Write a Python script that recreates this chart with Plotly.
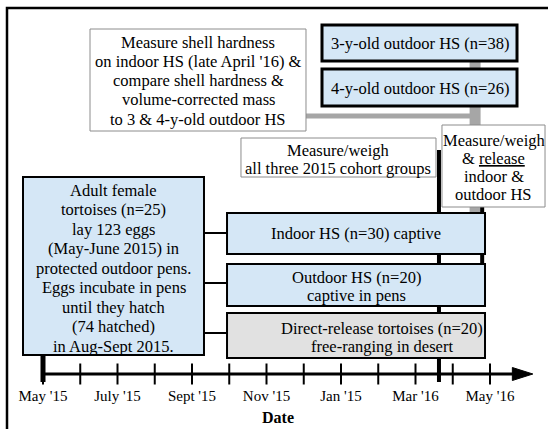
import plotly.graph_objects as go

# ---------------- data ----------------
# timeline in months since May 2015 (0 = May '15 ... 12 = May '16)
tick_months = list(range(13))
label_months = [0, 2, 4, 6, 8, 10, 12]
tick_labels = ["May '15", "July '15", "Sept '15", "Nov '15", "Jan '15", "Mar '16", "May '16"]
axis_end_month = 13.15
measure_month = 10.63        # measure/weigh all three cohorts (mid-March '16)
hs_compare_month = 11.60     # shell hardness comparison (late April '16)
release_month = 11.79        # measure/weigh & release

box_names = ["adults", "shell", "hs3", "hs4", "weigh_all", "release", "indoor", "outdoor", "direct"]
box_start = [-0.537, 1.262, 7.490, 7.490, 5.315, 10.711, 4.940, 4.940, 4.940]
box_end = [4.322, 7.060, 12.725, 12.725, 10.550, 13.477, 11.866, 11.866, 11.866]
box_text = [
    ["Adult female", "tortoises (n=25)", "lay 123 eggs", "(May-June 2015) in",
     "protected outdoor pens.", "Eggs incubate in pens", "until they hatch",
     "(74 hatched)", "in Aug-Sept 2015."],
    ["Measure shell hardness", "on indoor HS (late April '16) &",
     "compare shell hardness &", "volume-corrected mass", "to 3 & 4-y-old outdoor HS"],
    ["3-y-old outdoor HS (n=38)"],
    ["4-y-old outdoor HS (n=26)"],
    ["Measure/weigh", "all three 2015 cohort groups"],
    ["Measure/weigh", "& <u>release</u>", "indoor &", "outdoor HS"],
    ["Indoor HS (n=30) captive"],
    ["Outdoor HS (n=20)", "captive in pens"],
    ["Direct-release tortoises (n=20)", "free-ranging in desert"],
]
axis_title = "Date"

# ---------------- layout / style (pixel rows) ----------------
W, H = 548, 429
ORIGIN_PX, PX_PER_MONTH = 43, 37.25
x_range = [(0 - ORIGIN_PX) / PX_PER_MONTH, (W - ORIGIN_PX) / PX_PER_MONTH]

BLUE = "#d5e7f6"
GREYFILL = "#e1e1e1"
GREYLINE = "#a6a6a6"
WBORDER = "#8c8c8c"
FONT = "'Liberation Serif', Tinos, 'Times New Roman', 'DejaVu Serif', serif"

box_rows = {  # top, bottom, first text line y, line step
    "adults": (177, 355, 190, 19.5),
    "shell": (29, 131, 42, 19.3),
    "hs3": (25, 61, 43, 0),
    "hs4": (69, 106, 88, 0),
    "weigh_all": (138, 177, 150, 18.5),
    "release": (125, 207, 140, 18),
    "indoor": (213, 254, 233, 0),
    "outdoor": (264, 306, 277, 18),
    "direct": (313, 358, 328, 18),
}
box_style = {  # fill, border color, border width
    "adults": (BLUE, "black", 2),
    "shell": ("white", WBORDER, 1),
    "hs3": (BLUE, "black", 3),
    "hs4": (BLUE, "black", 3),
    "weigh_all": ("white", WBORDER, 1),
    "release": ("white", WBORDER, 1),
    "indoor": (BLUE, "black", 2),
    "outdoor": (BLUE, "black", 2),
    "direct": (GREYFILL, "black", 2),
}
text_shift = {"direct": 0.70}

AXIS_Y = 374
shapes = []


def line(x0, y0, x1, y1, w, c):
    shapes.append(dict(type="line", xref="x", yref="y", x0=x0, y0=y0, x1=x1, y1=y1,
                       line=dict(color=c, width=w)))


# connectors (drawn first, behind boxes)
line(box_end[0], 233, box_start[6], 233, 2, "black")
line(box_end[0], 283, box_start[6], 283, 2, "black")
line(box_end[0], 333, box_start[6], 333, 2, "black")
line(box_end[1], 116, hs_compare_month, 116, 5, GREYLINE)
line(hs_compare_month, 61, hs_compare_month, 213, 11, GREYLINE)
line(release_month, 207, release_month, 264, 4, "black")
line(measure_month, 150, measure_month, 382, 4, "black")
line(0, 355, 0, 382, 5, "black")

# timeline axis + arrow
line(0, AXIS_Y, 12.67, AXIS_Y, 3, "black")
shapes.append(dict(type="path", xref="x", yref="y",
                   path=f"M 12.60,{AXIS_Y-6.5} L {axis_end_month},{AXIS_Y} L 12.60,{AXIS_Y+6.5} Z",
                   fillcolor="black", line=dict(color="black", width=1)))

annotations = []
for name, x0, x1, lines in zip(box_names, box_start, box_end, box_text):
    top, bot, ly, step = box_rows[name]
    fill, bc, bw = box_style[name]
    shapes.append(dict(type="rect", xref="x", yref="y", x0=x0, x1=x1, y0=top, y1=bot,
                       fillcolor=fill, line=dict(color=bc, width=bw)))
    cx = (x0 + x1) / 2 + text_shift.get(name, 0)
    for i, t in enumerate(lines):
        annotations.append(dict(x=cx, y=ly + i * step, xref="x", yref="y", text=t,
                                showarrow=False, xanchor="center", yanchor="middle",
                                font=dict(family=FONT, size=16.5, color="black")))

# outer frame (runs off the right and bottom edges)
shapes.append(dict(type="rect", xref="paper", yref="paper", x0=7 / W, x1=1.05,
                   y0=-0.05, y1=1 - 8 / H, line=dict(color="black", width=2.5)))

annotations.append(dict(x=(278 - ORIGIN_PX) / PX_PER_MONTH, y=417.5, xref="x", yref="y",
                        text=f"<b>{axis_title}</b>", showarrow=False,
                        xanchor="center", yanchor="middle",
                        font=dict(family=FONT, size=16, color="black")))

fig = go.Figure()
fig.add_trace(go.Scatter(x=tick_months, y=[AXIS_Y] * len(tick_months), mode="markers",
                         marker=dict(symbol="line-ns", size=15,
                                     line=dict(color="black", width=2)),
                         hoverinfo="skip", showlegend=False))
fig.add_trace(go.Scatter(x=label_months, y=[397] * len(label_months), mode="text",
                         text=tick_labels, textposition="middle center",
                         textfont=dict(family=FONT, size=15, color="black"),
                         hoverinfo="skip", showlegend=False))

fig.update_layout(
    width=W, height=H, margin=dict(l=0, r=0, t=0, b=0),
    paper_bgcolor="white", plot_bgcolor="white",
    xaxis=dict(range=x_range, visible=False, fixedrange=True),
    yaxis=dict(range=[H, 0], visible=False, fixedrange=True),
    shapes=shapes, annotations=annotations, showlegend=False,
)
fig.write_html("out.html", config={"displayModeBar": False},
               post_script="document.body.style.margin='0';document.body.style.overflow='hidden';")
